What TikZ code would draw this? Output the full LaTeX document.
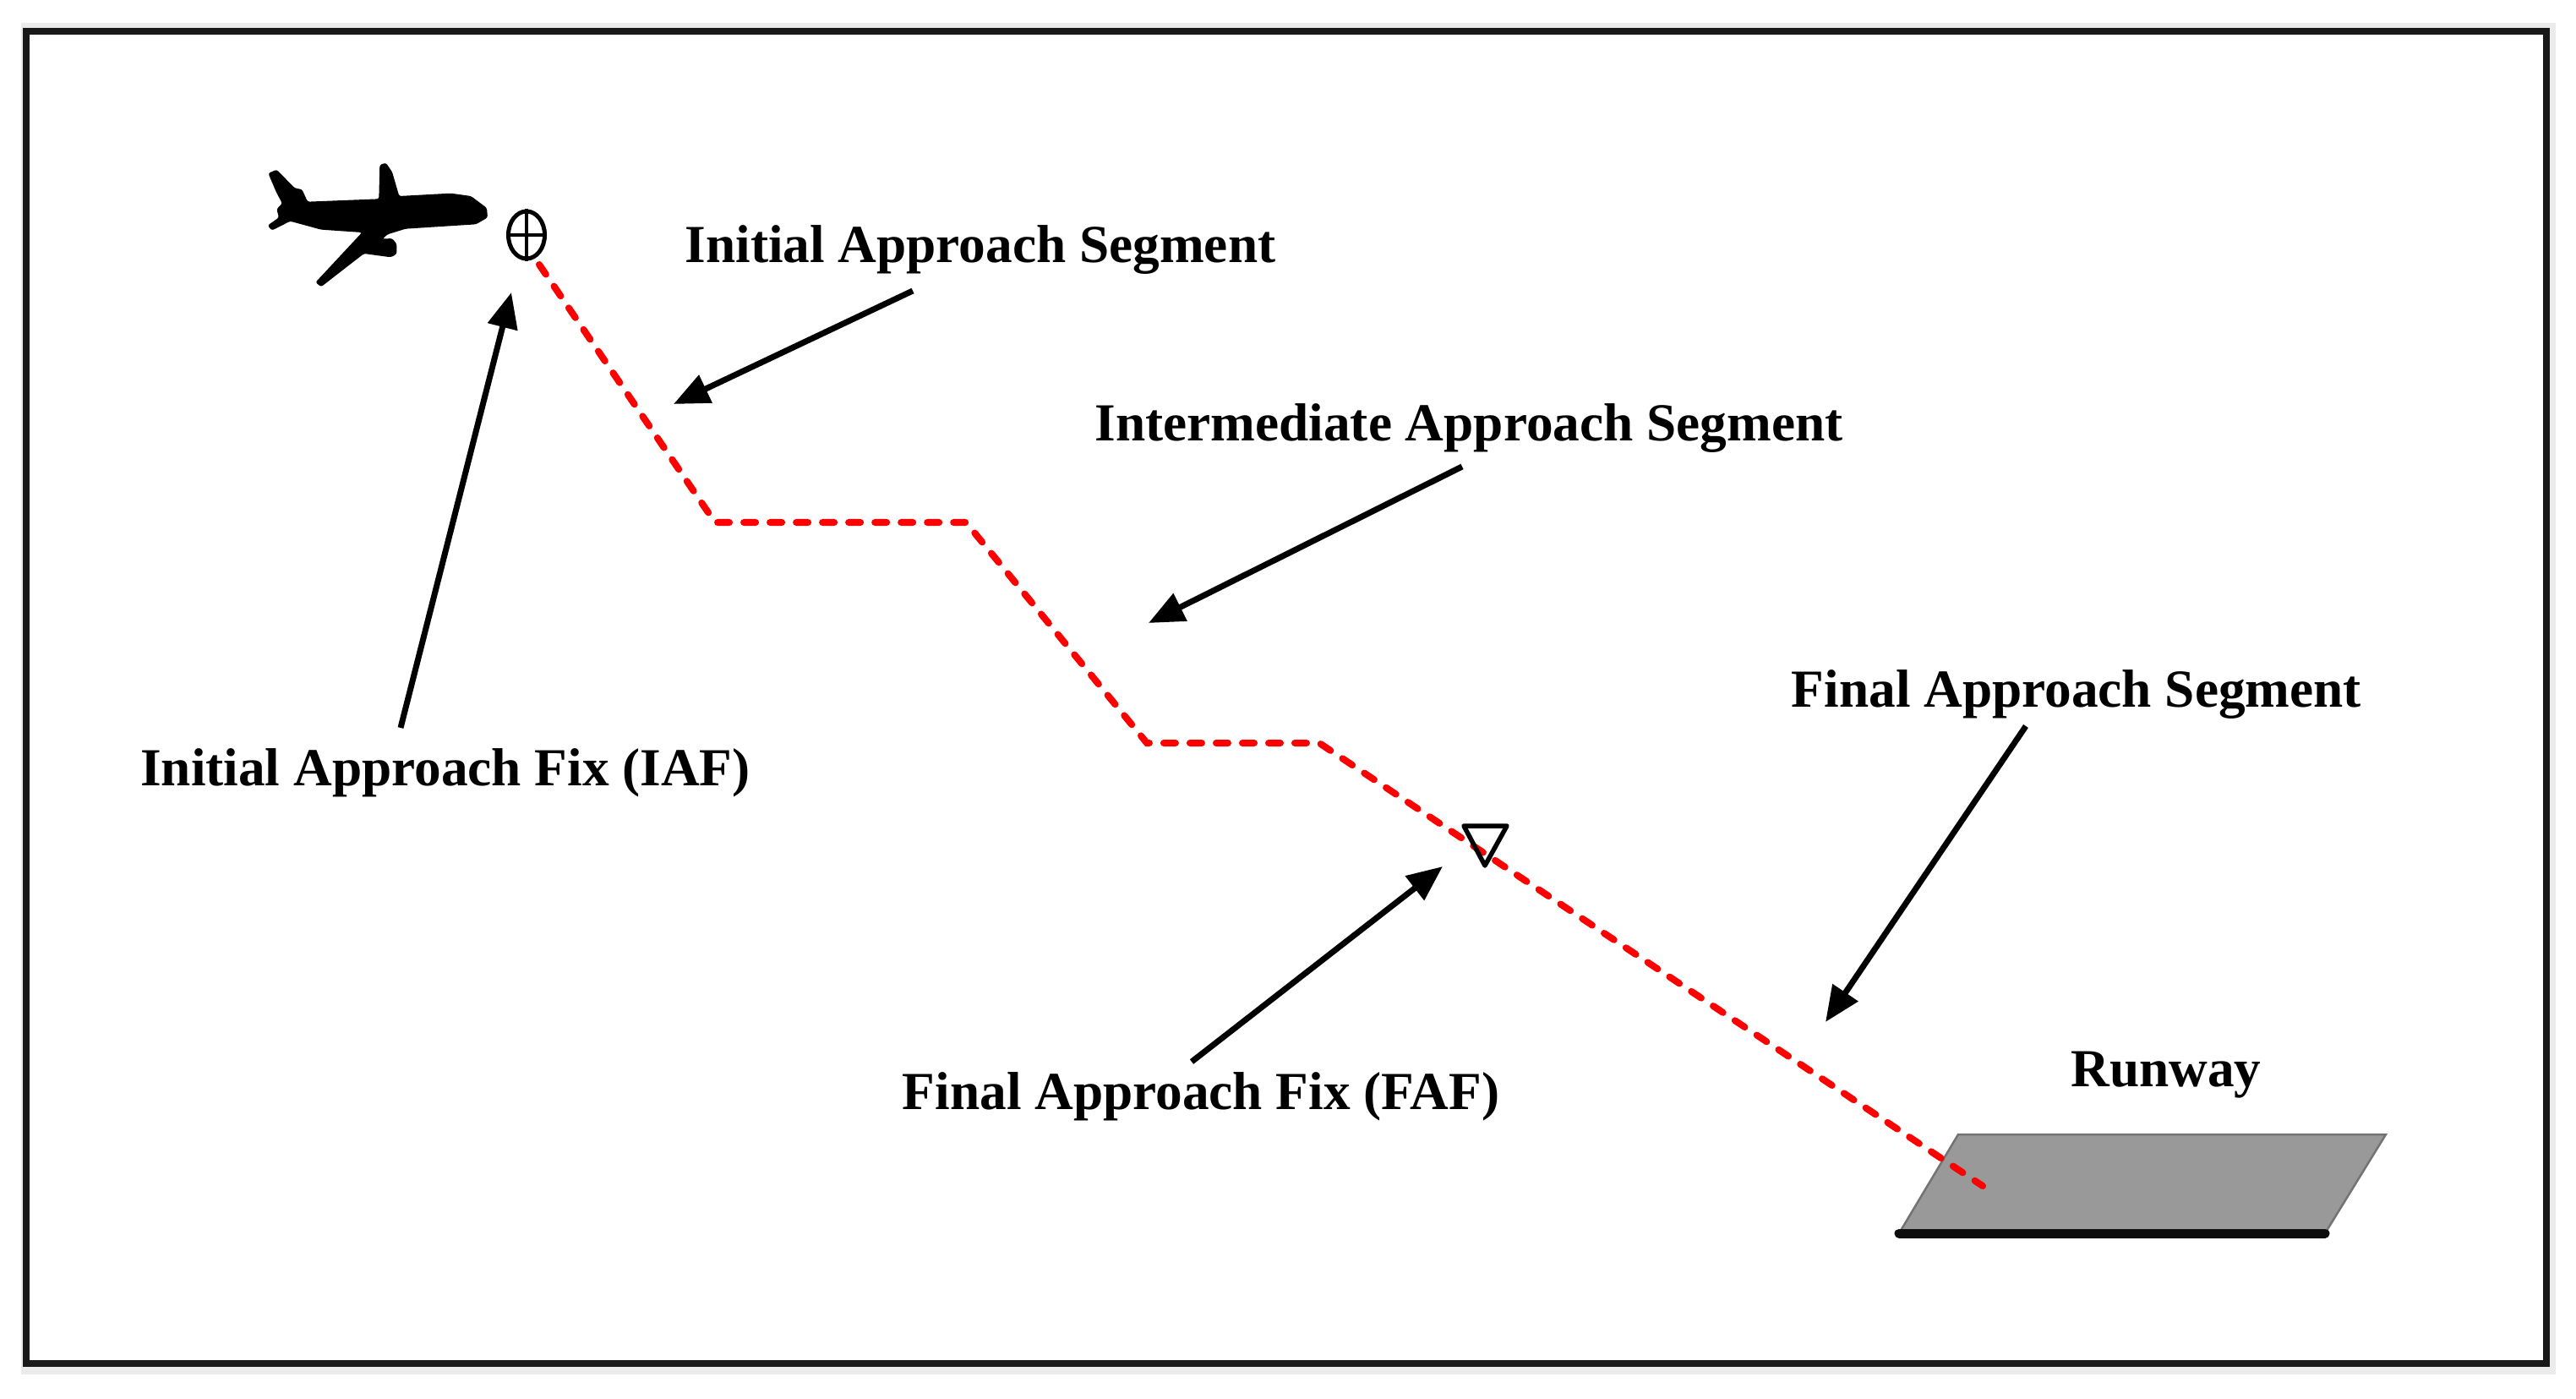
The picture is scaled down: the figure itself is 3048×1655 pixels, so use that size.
\documentclass[tikz,border=0pt]{standalone}
\usepackage{fontspec}
\setmainfont{Liberation Serif}
\usepackage{xcolor}
\usetikzlibrary{arrows.meta,shapes.geometric}

\begin{document}
\begin{tikzpicture}[
    x=0.01cm, y=-0.01cm,
    lbl/.style={font=\fontsize{18}{20}\selectfont\bfseries, inner sep=0pt},
    arrow/.style={-{Triangle[length=0.42cm,width=0.35cm]}, line width=0.07cm, black},
    segpath/.style={red, line width=0.08cm, line cap=round, dash pattern=on 0.14cm off 0.17cm},
    fixmark/.style={draw, line width=0.05cm, inner sep=0pt}
]
\useasboundingbox (0,0) rectangle (3048,1655);
\fill[black!8] (25,27) rectangle (3024,1626);
\draw[line width=0.08cm, black!90, fill=white] (31,37) rectangle (3013,1613);

% runway
\coordinate (rw_tl) at (2317,1342);
\coordinate (rw_tr) at (2823,1342);
\coordinate (rw_br) at (2751,1459);
\coordinate (rw_bl) at (2247,1459);
\fill[black!40] (rw_tl) -- (rw_tr) -- (rw_br) -- (rw_bl) -- cycle;
\draw[black!55, line width=0.025cm] (rw_bl) -- (rw_tl) -- (rw_tr) -- (rw_br);
\draw[line width=0.11cm, line cap=round, black!95] (rw_bl) -- (rw_br);

% approach path
\coordinate (p_start) at (638,313);
\coordinate (p_a) at (846,618);
\coordinate (p_b) at (1143,618);
\coordinate (p_c) at (1357,879);
\coordinate (p_d) at (1561,879);
\coordinate (p_end) at (2346,1403);
\draw[segpath] (p_start) -- (p_a) -- (p_b) -- (p_c) -- (p_d) -- (p_end);

% fixes
\node[fixmark, ellipse, minimum width=0.43cm, minimum height=0.56cm] (iaf) at (623,278) {};
\draw[line width=0.04cm] (iaf.north) -- (iaf.south);
\draw[line width=0.04cm] (iaf.west) -- (iaf.east);
\coordinate (faf_l) at (1732,977);
\coordinate (faf_r) at (1783,977);
\coordinate (faf_b) at (1757,1024);
\draw[line width=0.055cm, line join=round] (faf_l) -- (faf_r) -- (faf_b) -- cycle;

% aircraft
\begin{scope}[shift={(280,160)}, x=0.01cm/3, y=-0.01cm/3]
\fill[rounded corners=0.7pt] (112,135) -- (142,122) -- (207,188) -- (232,192) -- (252,236) -- (505,226)
  -- (508,105) -- (530,98) -- (552,130) -- (577,216) -- (760,206) -- (832,216) -- (888,258) -- (891,292)
  -- (850,316) -- (600,332) -- (535,352) -- (518,368) -- (552,366) -- (568,385) -- (568,422) -- (547,433)
  -- (452,420) -- (300,538) -- (280,522) -- (445,345) -- (300,335) -- (190,305) -- (125,338) -- (110,320)
  -- (150,292) -- (142,262) -- (162,242) -- (142,205) -- cycle;
\end{scope}

% labels
\node[lbl] (lbl_init) at (1160,296) {Initial Approach Segment};
\node[lbl] (lbl_inter) at (1738,507) {Intermediate Approach Segment};
\node[lbl] (lbl_final) at (2457,822) {Final Approach Segment};
\node[lbl] (lbl_iaf) at (527,914) {Initial Approach Fix (IAF)};
\node[lbl] (lbl_faf) at (1421,1297) {Final Approach Fix (FAF)};
\node[lbl] (lbl_rw) at (2563,1272) {Runway};

% arrows
\coordinate (init_from) at (1080,344);
\coordinate (init_to) at (797,478);
\coordinate (inter_from) at (1730,552);
\coordinate (inter_to) at (1359,737);
\coordinate (final_from) at (2397,859);
\coordinate (final_to) at (2160,1209);
\coordinate (iaf_from) at (474,861);
\coordinate (iaf_to) at (605,346);
\coordinate (faf_from) at (1410,1256);
\coordinate (faf_to) at (1707,1025);
\draw[arrow] (init_from) -- (init_to);
\draw[arrow] (inter_from) -- (inter_to);
\draw[arrow] (final_from) -- (final_to);
\draw[arrow] (iaf_from) -- (iaf_to);
\draw[arrow] (faf_from) -- (faf_to);
\end{tikzpicture}
\end{document}
